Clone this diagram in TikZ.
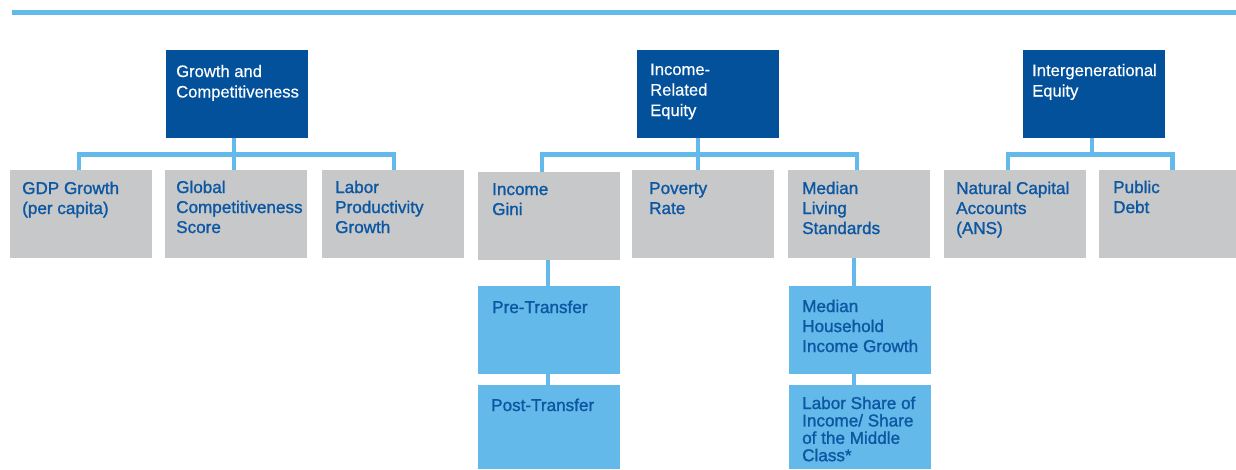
\documentclass[tikz,border=0pt]{standalone}
\usepackage{fontspec}
\setmainfont{Liberation Sans}
\newfontfamily\medfont{Liberation Sans}[FakeBold=1.3]
\newfontfamily\whitefont{Liberation Sans}[FakeBold=0.4]
\definecolor{darkbox}{HTML}{03519B}
\definecolor{graybox}{HTML}{C7C8CA}
\definecolor{lightbox}{HTML}{63B9E9}
\definecolor{bluetext}{HTML}{0C57A2}
\begin{document}
\begin{tikzpicture}[x=1pt,y=-1pt,
  box/.style={rectangle, inner sep=0pt, outer sep=0pt, anchor=north west, minimum width=142pt, minimum height=88pt},
  dbox/.style={box, fill=darkbox},
  gbox/.style={box, fill=graybox},
  lbox/.style={box, fill=lightbox},
  conn/.style={draw=lightbox, line width=4.5pt},
  wtxt/.style={inner sep=0pt, anchor=base west, text=white, font=\whitefont\fontsize{16.6}{20.5}\selectfont},
  btxt/.style={inner sep=0pt, anchor=base west, text=bluetext, font=\medfont\fontsize{17.1}{20}\selectfont}]
\useasboundingbox (0,0) rectangle (1236,469);
\fill[lightbox] (12,10.3) rectangle (1236,14.8);
% parents
\node[dbox] (gc) at (166,50) {};
\node[dbox] (ire) at (637,50) {};
\node[dbox] (ie) at (1023,50) {};
% children
\node[gbox] (gdp) at (10,170) {};
\node[gbox] (gcs) at (165,170) {};
\node[gbox] (lpg) at (322,170) {};
\node[gbox] (gini) at (478,172) {};
\node[gbox] (pov) at (632,170) {};
\node[gbox] (mls) at (788,170) {};
\node[gbox] (nca) at (944,170) {};
\node[gbox, minimum width=137pt] (pd) at (1099,170) {};
% grandchildren
\node[lbox] (pre) at (478,286) {};
\node[lbox, minimum height=84pt] (post) at (478,385) {};
\node[lbox] (mhi) at (789,286) {};
\node[lbox, minimum height=84pt] (lab) at (789,385) {};
% bars
\coordinate (bar) at (0,154.5);
% connectors group 1
\draw[conn] ([xshift=-2pt]gdp.north) |- ([xshift=1pt]lpg.north |- bar) -- ([xshift=1pt]lpg.north);
\draw[conn] ([xshift=-3pt]gc.south) -- ([xshift=-3pt]gc.south |- bar);
\draw[conn] ([xshift=-2pt]gcs.north) -- ([xshift=-2pt]gcs.north |- bar);
% group 2
\draw[conn] ([xshift=-7pt]gini.north) |- ([xshift=-2pt]mls.north |- bar) -- ([xshift=-2pt]mls.north);
\draw[conn] ([xshift=-10pt]ire.south) -- ([xshift=-10pt]ire.south |- bar);
\draw[conn] ([xshift=-5pt]pov.north) -- ([xshift=-5pt]pov.north |- bar);
% group 3
\draw[conn] ([xshift=-7pt]nca.north) |- ([xshift=5pt]pd.north |- bar) -- ([xshift=5pt]pd.north);
\draw[conn] ([xshift=-2pt]ie.south) -- ([xshift=-2pt]ie.south |- bar);
% lower connectors
\draw[conn] ([xshift=-1pt]gini.south) -- ([xshift=-1pt]pre.north);
\draw[conn] ([xshift=-1pt]pre.south) -- ([xshift=-1pt]post.north);
\draw[conn] ([xshift=-5pt]mls.south) -- ([xshift=-6pt]mhi.north);
\draw[conn] ([xshift=-6pt]mhi.south) -- ([xshift=-6pt]lab.north);
% texts
\node[wtxt] (gc-t) at ([shift={(10,27)}]gc.north west) {\parbox[t]{140pt}{Growth and\\Competitiveness}};
\node[wtxt] (ire-t) at ([shift={(13,25)}]ire.north west) {\parbox[t]{140pt}{Income-\\Related\\Equity}};
\node[wtxt] (ie-t) at ([shift={(9,26)}]ie.north west) {\parbox[t]{140pt}{Intergenerational\\Equity}};
\node[btxt] (gdp-t) at ([shift={(12,24)}]gdp.north west) {\parbox[t]{140pt}{GDP Growth\\(per capita)}};
\node[btxt] (gcs-t) at ([shift={(11,23)}]gcs.north west) {\parbox[t]{140pt}{Global\\Competitiveness\\Score}};
\node[btxt] (lpg-t) at ([shift={(13,23)}]lpg.north west) {\parbox[t]{140pt}{Labor\\Productivity\\Growth}};
\node[btxt] (gini-t) at ([shift={(14,23)}]gini.north west) {\parbox[t]{140pt}{Income\\Gini}};
\node[btxt] (pov-t) at ([shift={(17,24)}]pov.north west) {\parbox[t]{140pt}{Poverty\\Rate}};
\node[btxt] (mls-t) at ([shift={(14,24)}]mls.north west) {\parbox[t]{140pt}{Median\\Living\\Standards}};
\node[btxt] (nca-t) at ([shift={(12,24)}]nca.north west) {\parbox[t]{140pt}{Natural Capital\\Accounts\\(ANS)}};
\node[btxt] (pd-t) at ([shift={(14,23)}]pd.north west) {\parbox[t]{140pt}{Public\\Debt}};
\node[btxt] (pre-t) at ([shift={(14,27)}]pre.north west) {\parbox[t]{140pt}{Pre-Transfer}};
\node[btxt] (post-t) at ([shift={(13,26)}]post.north west) {\parbox[t]{140pt}{Post-Transfer}};
\node[btxt] (mhi-t) at ([shift={(13,26)}]mhi.north west) {\parbox[t]{140pt}{Median\\Household\\Income Growth}};
\node[btxt, font=\medfont\fontsize{17.1}{17.4}\selectfont] (lab-t) at ([shift={(13,24)}]lab.north west) {\parbox[t]{140pt}{Labor Share of\\Income/ Share\\of the Middle\\Class*}};
\end{tikzpicture}
\end{document}
